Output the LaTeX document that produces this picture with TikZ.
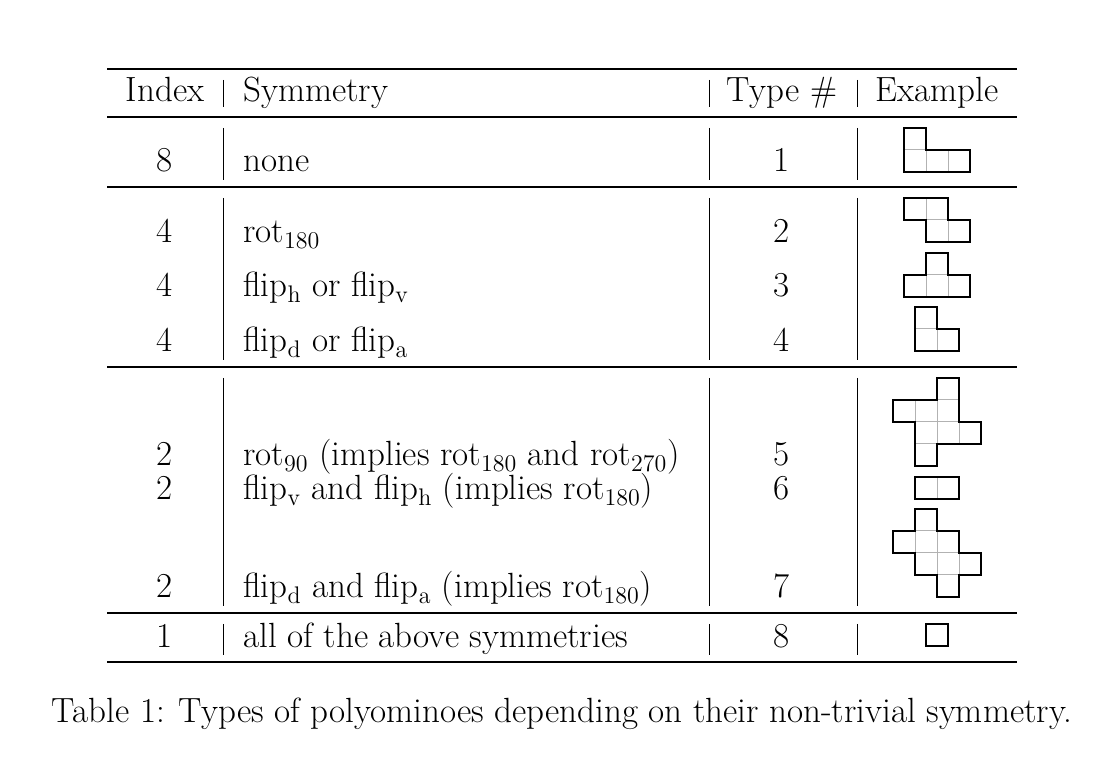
\documentclass[tikz,border=0pt]{standalone}
\begin{document}
\begin{tikzpicture}[x=0.5pt,y=-0.5pt,
  txt/.style={font=\fontsize{17.5}{21}\selectfont,inner sep=0pt},
  bar/.style={line width=0.5pt},
  rulethin/.style={line width=0.6pt},
  rulethick/.style={line width=1.2pt},
  cellgrid/.style={draw=black!30,line width=0.5pt},
  outl/.style={draw=black,line width=0.9pt}]
\useasboundingbox (0,0) rectangle (1104,764);
% rules
\draw[rulethick] (107,69) -- (1017,69);
\draw[rulethin] (107,117) -- (1017,117);
\draw[rulethin] (107,187) -- (1017,187);
\draw[rulethin] (107,367) -- (1017,367);
\draw[rulethin] (107,613) -- (1017,613);
\draw[rulethick] (107,662) -- (1017,662);
% bars
\foreach \x in {223,709,857}{
 \draw[bar] (\x,80) -- (\x,107);
 \draw[bar] (\x,128) -- (\x,180);
 \draw[bar] (\x,198) -- (\x,360);
 \draw[bar] (\x,378) -- (\x,606);
 \draw[bar] (\x,624) -- (\x,655);
}
% header
\node[txt,anchor=base] (h1) at (165,102) {Index};
\node[txt,anchor=base west] (h2) at (243,102) {Symmetry};
\node[txt,anchor=base] (h3) at (782,102) {Type \#};
\node[txt,anchor=base] (h4) at (937,102) {Example};
% rows
\foreach \y/\i/\s/\t in {
 172/8/none/1,
 243/4/rot$_{180}$/2,
 297/4/flip$_{\mathrm{h}}$ or flip$_{\mathrm{v}}$/3,
 352/4/flip$_{\mathrm{d}}$ or flip$_{\mathrm{a}}$/4,
 466/2/rot$_{90}$ (implies rot$_{180}$ and rot$_{270}$)/5,
 500/2/flip$_{\mathrm{v}}$ and flip$_{\mathrm{h}}$ (implies rot$_{180}$)/6,
 598/2/flip$_{\mathrm{d}}$ and flip$_{\mathrm{a}}$ (implies rot$_{180}$)/7,
 647/1/all of the above symmetries/8}{
 \node[txt,anchor=base] (i\t) at (165,\y) {\i};
 \node[txt,anchor=base west] (s\t) at (243,\y) {\s};
 \node[txt,anchor=base] (t\t) at (782,\y) {\t};
}
% caption
\node[txt,anchor=base] (cap) at (562,722) {Table 1: Types of polyominoes depending on their non-trivial symmetry.};
% polyominoes: cell size 22
\def\cs{22}
\newcommand{\cells}[3]{% origin x, origin y, list of c/r
 \foreach \c/\r in {#3}{\draw[cellgrid] ({#1+\c*\cs},{#2+\r*\cs}) rectangle ++(\cs,\cs);}}
% type 1
\cells{904}{128}{0/0,0/1,1/1,2/1}
\draw[outl] (904,128) -- (926,128) -- (926,150) -- (970,150) -- (970,172) -- (904,172) -- cycle;
% type 2
\cells{904}{198}{0/0,1/0,1/1,2/1}
\draw[outl] (904,198) -- (948,198) -- (948,220) -- (970,220) -- (970,242) -- (926,242) -- (926,220) -- (904,220) -- cycle;
% type 3
\cells{904}{253}{1/0,0/1,1/1,2/1}
\draw[outl] (926,253) -- (948,253) -- (948,275) -- (970,275) -- (970,297) -- (904,297) -- (904,275) -- (926,275) -- cycle;
% type 4
\cells{915}{307}{0/0,0/1,1/1}
\draw[outl] (915,307) -- (937,307) -- (937,329) -- (959,329) -- (959,351) -- (915,351) -- cycle;
% type 5
\cells{893}{378}{2/0,0/1,1/1,2/1,1/2,2/2,3/2,1/3}
\draw[outl] (937,378) -- (959,378) -- (959,422) -- (981,422) -- (981,444) -- (937,444) -- (937,466) -- (915,466) -- (915,422) -- (893,422) -- (893,400) -- (937,400) -- cycle;
% type 6
\cells{915}{477}{0/0,1/0}
\draw[outl] (915,477) rectangle (959,499);
% type 7
\cells{893}{509}{1/0,0/1,1/1,2/1,1/2,2/2,3/2,2/3}
\draw[outl] (915,509) -- (937,509) -- (937,531) -- (959,531) -- (959,553) -- (981,553) -- (981,575) -- (959,575) -- (959,597) -- (937,597) -- (937,575) -- (915,575) -- (915,553) -- (893,553) -- (893,531) -- (915,531) -- cycle;
% type 8
\draw[outl] (926,624) rectangle (948,646);
\end{tikzpicture}
\end{document}
